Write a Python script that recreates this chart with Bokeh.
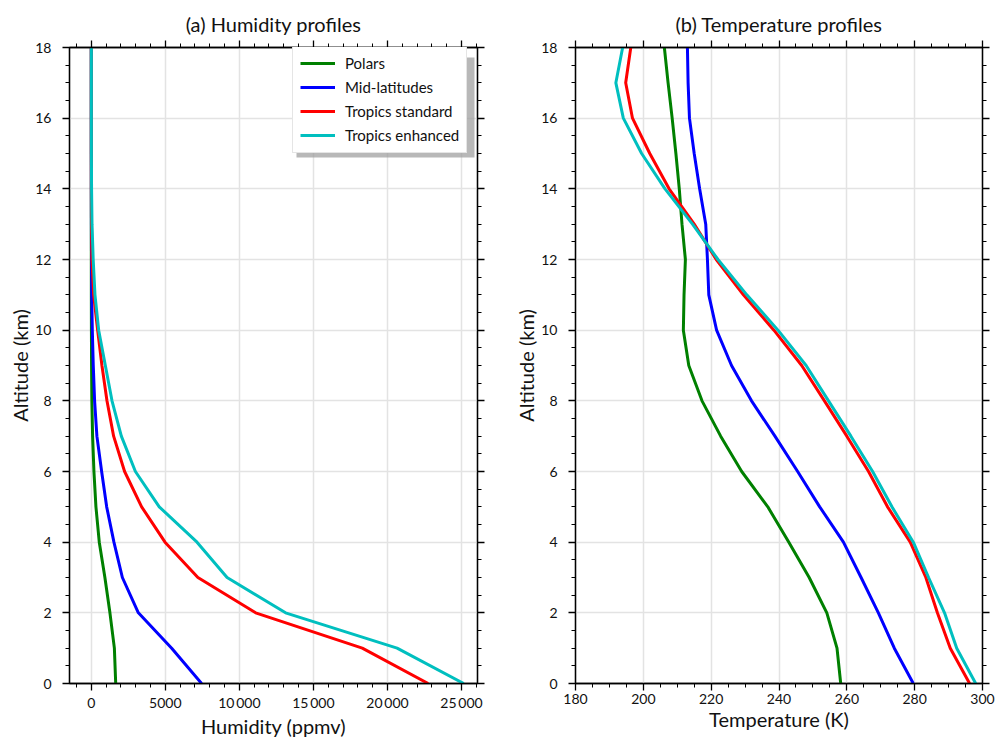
from bokeh.plotting import figure
from bokeh.models import (Range1d, FixedTicker, LinearAxis, Legend, LegendItem, BoxAnnotation,
                          CustomJSTickFormatter)
from bokeh.layouts import row
from bokeh.embed import file_html
from bokeh.resources import INLINE

# ---------------- data ----------------
altitude_km = list(range(0, 19))
series_names = ["Polars", "Mid-latitudes", "Tropics standard", "Tropics enhanced"]
series_colors = ["#008000", "#0000ff", "#ff0000", "#00bfbf"]

hum_polars = [1650, 1560, 1260, 920, 540, 315, 180, 90, 40, 20, 10, 5, 3, 2, 2, 2, 2, 2, 2]
hum_midlat = [7450, 5430, 3180, 2100, 1530, 1040, 700, 380, 225, 135, 70, 30, 15, 8, 5, 4, 4, 4, 4]
hum_trop_std = [22750, 18300, 11100, 7200, 4980, 3400, 2250, 1510, 1060, 720, 430, 160, 45, 15, 8, 6, 5, 5, 5]
hum_trop_enh = [25150, 20650, 13120, 9170, 7140, 4590, 2980, 2030, 1400, 950, 500, 250, 130, 50, 20, 10, 8, 8, 8]

temp_polars = [258.2, 257.1, 254.1, 248.9, 242.9, 236.7, 229.0, 222.8, 217.3, 213.4, 211.8, 212.0,
               212.4, 211.4, 210.6, 209.6, 208.5, 207.3, 206.2]
temp_midlat = [279.6, 274.0, 269.3, 264.2, 259.0, 252.0, 245.5, 238.8, 231.9, 226.0, 221.6, 219.3,
               218.9, 218.4, 216.6, 215.0, 213.6, 213.2, 213.0]
temp_trop_std = [296.2, 290.5, 286.7, 283.3, 278.7, 272.0, 266.4, 260.0, 253.4, 246.7, 238.5, 229.5,
                 221.5, 215.0, 207.6, 201.9, 196.8, 194.8, 196.3]
temp_trop_enh = [298.0, 292.4, 288.8, 284.1, 279.6, 273.3, 267.6, 261.2, 254.6, 248.0, 239.7, 230.5,
                 222.0, 214.5, 206.4, 199.5, 194.1, 191.9, 193.9]

hum_ticks = [0, 5000, 10000, 15000, 20000, 25000]
hum_tick_labels = ["0", "5000", "10\u2009000", "15\u2009000", "20\u2009000", "25\u2009000"]
temp_ticks = [180, 200, 220, 240, 260, 280, 300]
alt_ticks = [0, 2, 4, 6, 8, 10, 12, 14, 16, 18]

hum_minor = [v * 1000 for v in range(-1, 27)]
temp_minor = [180 + 5 * i for i in range(25)]
alt_minor = [0.5 * i for i in range(37)]

FONT = "Lato"
TXT = "#111111"


def style_axis(ax, labels=True, horizontal=True):
    ax.axis_line_color = "black"
    ax.axis_line_width = 1.3
    ax.major_tick_line_color = "black"
    ax.major_tick_line_width = 1.3
    ax.minor_tick_line_color = "black"
    ax.minor_tick_line_width = 1.0
    ax.major_tick_out = 7
    ax.major_tick_in = 0
    ax.minor_tick_out = 4
    ax.minor_tick_in = 0
    ax.major_label_text_font = FONT
    ax.major_label_text_color = TXT
    ax.axis_label_text_font = FONT
    ax.axis_label_text_font_style = "normal"
    ax.axis_label_text_color = TXT
    ax.axis_label_text_font_size = "20px"
    if labels:
        ax.major_label_text_font_size = "14px"
        if horizontal:
            ax.major_label_standoff = 3
            ax.axis_label_standoff = 0
        else:
            ax.major_label_standoff = 11
            ax.axis_label_standoff = 0
    else:
        ax.formatter = CustomJSTickFormatter(code="return ''")
        ax.major_label_text_font_size = "1px"
        ax.major_label_standoff = 0


def make_fig(title, xr, xticks, xminor, xlabel, fw, mb_left, mb_right, overrides=None):
    p = figure(frame_width=fw, frame_height=636, x_range=xr, y_range=Range1d(0, 18),
               output_backend="svg", toolbar_location=None, title=title,
               min_border_left=mb_left, min_border_right=mb_right, min_border_top=47,
               min_border_bottom=10, background_fill_color="white", border_fill_color="white")
    p.title.text_font = FONT
    p.title.text_font_size = "20px"
    p.title.text_font_style = "normal"
    p.title.text_color = TXT
    p.title.align = "center"
    p.outline_line_color = "black"
    p.outline_line_width = 1.3

    p.xaxis.ticker = FixedTicker(ticks=xticks, minor_ticks=xminor)
    p.yaxis.ticker = FixedTicker(ticks=alt_ticks, minor_ticks=alt_minor)
    p.xaxis.axis_label = xlabel
    p.yaxis.axis_label = "Altitude (km)"
    if overrides:
        p.xaxis.major_label_overrides = overrides
    for ax in p.xaxis:
        style_axis(ax, True, True)
    for ax in p.yaxis:
        style_axis(ax, True, False)

    top_ax = LinearAxis(ticker=FixedTicker(ticks=xticks, minor_ticks=xminor))
    right_ax = LinearAxis(ticker=FixedTicker(ticks=alt_ticks, minor_ticks=alt_minor))
    style_axis(top_ax, False)
    style_axis(right_ax, False)
    p.add_layout(top_ax, "above")
    p.add_layout(right_ax, "right")

    p.xgrid.grid_line_color = "#e3e3e3"
    p.ygrid.grid_line_color = "#e3e3e3"
    p.xgrid.grid_line_width = 1.5
    p.ygrid.grid_line_width = 1.5
    return p


hum_overrides = {t: lab for t, lab in zip(hum_ticks, hum_tick_labels)}

p1 = make_fig("(a) Humidity profiles", Range1d(-1470, 26080), hum_ticks, hum_minor,
              "Humidity (ppmv)", 408, 69, 34, hum_overrides)
p2 = make_fig("(b) Temperature profiles", Range1d(180, 300), temp_ticks, temp_minor,
              "Temperature (K)", 407, 61, 13)

hum_series = [hum_polars, hum_midlat, hum_trop_std, hum_trop_enh]
temp_series = [temp_polars, temp_midlat, temp_trop_std, temp_trop_enh]

items = []
for name, color, hs in zip(series_names, series_colors, hum_series):
    r = p1.line(hs, altitude_km, line_color=color, line_width=3)
    items.append(LegendItem(label=name, renderers=[r]))
for color, ts in zip(series_colors, temp_series):
    p2.line(ts, altitude_km, line_color=color, line_width=3)

shadow = BoxAnnotation(left=227, right=405, top=626, bottom=526,
                       left_units="screen", right_units="screen",
                       top_units="screen", bottom_units="screen",
                       fill_color="#9a9a9a", fill_alpha=0.7, line_color=None)
p1.add_layout(shadow)

legend = Legend(items=items, location=(223, 530))
legend.label_text_font = FONT
legend.label_text_font_size = "15px"
legend.label_text_color = TXT
legend.glyph_width = 35
legend.glyph_height = 20
legend.label_height = 20
legend.spacing = 4
legend.padding = 7
legend.label_standoff = 10
legend.margin = 0
legend.border_line_color = "#cccccc"
legend.border_line_width = 1
legend.background_fill_color = "white"
legend.background_fill_alpha = 1.0
p1.add_layout(legend)

layout = row(p1, p2)
open("out.html", "w").write(file_html(layout, INLINE))
